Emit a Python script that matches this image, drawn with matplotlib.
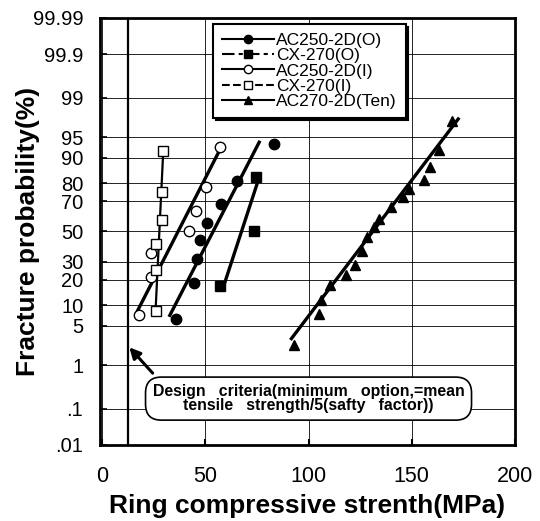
import numpy as np
import matplotlib
matplotlib.use('Agg')
import matplotlib.pyplot as plt
from matplotlib.lines import Line2D
from matplotlib.ticker import NullLocator
from statistics import NormalDist

# measured points (strength in MPa, cumulative fracture probability in %)
ac250_o_x = [35.8, 44.3, 46.2, 47.5, 50.8, 57.4, 65.5, 83.5]
ac250_o_p = [6.3, 18.4, 31.7, 44.2, 55.8, 68.5, 81.2, 93.6]
cx270_o_x = [57.0, 73.7, 74.5]
cx270_o_p = [16.9, 50.2, 82.8]
ac250_i_x = [17.8, 23.5, 23.9, 42.2, 45.6, 50.3, 56.9]
ac250_i_p = [7.4, 21.3, 35.3, 50.2, 64.2, 78.3, 93.0]
cx270_i_x = [26.0, 26.3, 26.3, 29.2, 29.2, 29.6]
cx270_i_p = [8.4, 25.3, 41.5, 58.0, 75.3, 91.9]
ten_x = [93.0, 105.1, 106.1, 110.5, 118.1, 122.7, 126.0, 128.4, 131.7,
         134.2, 139.9, 145.6, 148.9, 155.7, 158.7, 163.2, 169.3]
ten_p = [2.4, 7.6, 11.7, 17.4, 22.2, 27.7, 37.0, 46.0, 53.0,
         58.7, 66.4, 72.5, 77.1, 81.6, 86.8, 92.2, 97.3]

# fitted lines (end points)
ac250_o_fit_x, ac250_o_fit_p = [32.8, 76.1], [7.2, 94.0]
cx270_o_fit_x, cx270_o_fit_p = [59.0, 76.1], [17.4, 82.7]
ac250_i_fit_x, ac250_i_fit_p = [17.3, 56.6], [8.5, 91.8]
cx270_i_fit_x, cx270_i_fit_p = [26.0, 29.6], [9.5, 91.6]
ten_fit_x, ten_fit_p = [91.7, 172.5], [3.1, 97.5]

design_x = 12.4

y_ticks = [0.01, 0.1, 1, 5, 10, 20, 30, 50, 70, 80, 90, 95, 99, 99.9, 99.99]
y_labels = ['.01', '.1', '1', '5', '10', '20', '30', '50', '70', '80',
            '90', '95', '99', '99.9', '99.99']
x_ticks = [0, 50, 100, 150, 200]

nd = NormalDist()


def prob_fwd(p):
    p = np.clip(np.asarray(p, dtype=float) / 100.0, 1e-9, 1 - 1e-9)
    return np.vectorize(nd.inv_cdf, otypes=[float])(p)


def prob_inv(z):
    return np.vectorize(nd.cdf, otypes=[float])(np.asarray(z, dtype=float)) * 100.0


plt.rcParams['font.family'] = ['Liberation Sans', 'DejaVu Sans']

fig = plt.figure(figsize=(5.4, 5.21), dpi=100)
ax = fig.add_axes([0.1852, 0.1459, 0.7685, 0.8196])
ax.set_yscale('function', functions=(prob_fwd, prob_inv))

# fit lines
ax.plot(ac250_o_fit_x, ac250_o_fit_p, color='black', lw=2.4, zorder=3)
ax.plot(cx270_o_fit_x, cx270_o_fit_p, color='black', lw=2.4, zorder=3)
ax.plot(ac250_i_fit_x, ac250_i_fit_p, color='black', lw=2.4, zorder=3)
ax.plot(cx270_i_fit_x, cx270_i_fit_p, color='black', lw=1.6, zorder=3)
ax.plot(ten_fit_x, ten_fit_p, color='black', lw=2.4, zorder=3)

# data points
ax.plot(ac250_o_x, ac250_o_p, 'o', ms=7.5, color='black', zorder=4)
ax.plot(cx270_o_x, cx270_o_p, 's', ms=7.5, color='black', zorder=4)
ax.plot(ac250_i_x, ac250_i_p, 'o', ms=7.5, mfc='white', mec='black', mew=1.0, zorder=4)
ax.plot(cx270_i_x, cx270_i_p, 's', ms=7.5, mfc='white', mec='black', mew=1.0, zorder=4)
ax.plot(ten_x, ten_p, '^', ms=7.5, color='black', zorder=4)

# design criteria
ax.axvline(design_x, color='black', lw=1.6, zorder=2)
ax.annotate('', xy=(13.2, 2.18), xytext=(24.5, 0.68),
            arrowprops=dict(arrowstyle='-|>', color='black', lw=2.2,
                            mutation_scale=16, shrinkA=0, shrinkB=0), zorder=5)
ax.text(100.0, 0.18,
        'Design   criteria(minimum   option,=mean\ntensile   strength/5(safty   factor))',
        ha='center', va='center', fontsize=11.4, fontweight='bold',
        linespacing=0.9, zorder=6,
        bbox=dict(boxstyle='round,pad=0.45,rounding_size=1.0', fc='white',
                  ec='black', lw=1.2))

ax.set_xlim(-1, 200)
ax.set_ylim(0.01, 99.99)
ax.set_xticks(x_ticks)
ax.set_yticks(y_ticks)
ax.set_yticklabels(y_labels)
ax.yaxis.set_minor_locator(NullLocator())
ax.xaxis.set_minor_locator(NullLocator())
ax.tick_params(axis='y', direction='in', length=5, width=1.2, labelsize=14.5, pad=12)
ax.tick_params(axis='x', direction='in', length=4, width=1.5, labelsize=15.5, pad=15)
ax.grid(True, color='black', lw=0.6)
for s in ax.spines.values():
    s.set_linewidth(2.0)

ax.set_xlabel('Ring compressive strenth(MPa)', fontsize=19, fontweight='bold', labelpad=5)
ax.set_ylabel('Fracture probability(%)', fontsize=19, fontweight='bold')
ax.yaxis.set_label_coords(-0.145, 0.5)

handles = [
    Line2D([], [], color='black', lw=1.5, marker='o', ms=6),
    Line2D([], [], color='black', lw=1.5, ls=(0, (6, 2, 2, 2)), marker='s', ms=6),
    Line2D([], [], color='black', lw=1.5, marker='o', ms=6, mfc='white'),
    Line2D([], [], color='black', lw=1.5, ls='--', marker='s', ms=6, mfc='white'),
    Line2D([], [], color='black', lw=1.5, marker='^', ms=6),
]
labels = ['AC250-2D(O)', 'CX-270(O)', 'AC250-2D(I)', 'CX-270(I)', 'AC270-2D(Ten)']
leg = ax.legend(handles, labels, loc='upper left', bbox_to_anchor=(0.272, 0.985),
                borderaxespad=0, fontsize=12.5, handlelength=3.0, handletextpad=0.15,
                labelspacing=0.0, borderpad=0.5, fancybox=False,
                shadow={'color': 'black', 'alpha': 1}, framealpha=1,
                edgecolor='black')
leg.get_frame().set_linewidth(1.5)
leg.set_zorder(7)

fig.savefig('out.png', dpi=100)
